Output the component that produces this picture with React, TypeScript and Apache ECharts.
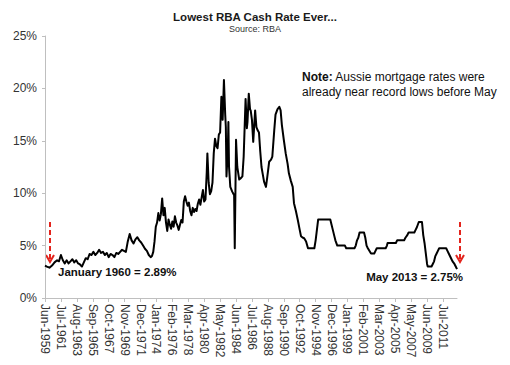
import React, { useEffect, useRef } from "react";
import * as echarts from "echarts";

const MONTH_NAMES = ["Jan", "Feb", "Mar", "Apr", "May", "Jun", "Jul", "Aug", "Sep", "Oct", "Nov", "Dec"];
// Monthly categories from Jun-1959 to May-2013
const START_YEAR = 1959;
const START_MONTH = 5; // June (0-based)
const MONTH_COUNT = 648;
const categories: string[] = [];
for (let i = 0; i < MONTH_COUNT; i++) {
  const t = START_MONTH + i;
  categories.push(`${MONTH_NAMES[t % 12]}-${START_YEAR + Math.floor(t / 12)}`);
}

// Readings: months since Jun-1959, cash rate (%)
const readMonths = [
  0, 3, 7, 11, 15, 19, 22, 25, 28, 31, 34, 37, 40, 43, 46, 49, 52, 55, 58, 61, 64, 67, 70, 73, 76, 79, 82, 85, 88, 91,
  94, 97, 100, 103, 106, 109, 112, 115, 118, 121, 124, 127, 130, 133, 136, 139, 142, 145, 148, 151, 154, 157, 160, 163,
  166, 168, 170, 172, 174, 176, 178, 180, 182, 184, 186, 188, 190, 192, 194, 196, 198, 200, 202, 204, 206, 208, 210,
  212, 214, 216, 218, 220, 222, 224, 226, 228, 230, 232, 234, 236, 238, 240, 242, 244, 246, 248, 250, 252, 254, 255,
  257, 259, 261, 263, 265, 267, 269, 271, 273, 275, 277, 279, 281, 283, 284, 285, 287, 288, 289, 291, 294, 297, 298,
  300, 302, 305, 307, 310, 312, 315, 317, 318, 320, 322, 323, 325, 327, 330, 332, 334, 336, 338, 340, 342, 344, 347,
  349, 352, 355, 357, 360, 362, 365, 368, 370, 372, 375, 378, 381, 383, 386, 389, 391, 394, 397, 400, 402, 405, 407,
  410, 413, 423, 425, 427, 429, 448, 450, 452, 454, 456, 459, 471, 473, 486, 488, 490, 492, 494, 501, 503, 505, 507,
  512, 517, 519, 521, 535, 537, 538, 551, 553, 564, 566, 569, 571, 580, 582, 584, 587, 592, 594, 596, 598, 600, 601,
  607, 609, 611, 613, 615, 617, 619, 630, 632, 634, 638, 640, 643, 645, 647,
];
const readRates = [
  3.1, 3.0, 2.89, 3.1, 3.4, 3.6, 3.5, 4.1, 3.6, 3.3, 3.6, 3.3, 3.5, 3.7, 3.4, 3.6, 3.3, 3.2, 3.0, 3.4, 3.8, 3.7, 4.2,
  4.1, 4.4, 4.1, 4.3, 4.6, 4.3, 4.4, 4.1, 4.3, 3.9, 4.2, 4.1, 3.9, 4.3, 4.2, 4.4, 4.6, 4.5, 4.4, 5.4, 6.1, 5.5, 5.2,
  5.6, 5.8, 5.5, 5.3, 5.0, 4.7, 4.5, 4.1, 3.9, 4.0, 4.4, 5.4, 6.8, 7.2, 8.1, 7.4, 8.0, 9.5, 7.9, 8.6, 7.2, 6.4, 7.5,
  7.0, 6.6, 7.3, 6.8, 7.8, 7.2, 6.9, 6.5, 7.0, 7.45, 7.2, 9.2, 9.7, 9.2, 8.8, 9.1, 8.3, 7.9, 8.6, 8.2, 8.5, 8.3, 9.0,
  9.4, 8.9, 9.6, 10.3, 9.2, 9.4, 12.0, 13.8, 11.0, 9.9, 10.2, 11.0, 13.8, 15.2, 14.5, 14.3, 15.6, 15.8, 19.2, 17.0,
  20.8, 17.5, 16.3, 11.6, 14.0, 16.8, 12.5, 10.6, 10.15, 9.8, 4.75, 15.1, 12.5, 11.3, 11.4, 11.6, 13.5, 19.0, 16.2,
  16.8, 19.5, 18.0, 17.9, 17.0, 14.9, 17.9, 16.3, 16.0, 15.8, 14.0, 12.5, 11.8, 11.1, 10.6, 11.5, 13.0, 13.2, 13.5,
  16.0, 17.5, 18.0, 18.25, 17.9, 16.5, 15.1, 13.8, 12.8, 11.9, 11.2, 10.6, 9.05, 8.3, 7.45, 6.5, 5.9, 5.75, 5.7, 5.4,
  4.75, 4.75, 5.5, 6.5, 7.5, 7.5, 7.0, 6.5, 6.0, 5.5, 5.0, 5.0, 4.75, 4.75, 5.0, 5.5, 5.75, 6.25, 6.25, 5.75, 5.0,
  4.75, 4.25, 4.25, 4.5, 4.75, 4.75, 5.0, 5.25, 5.25, 5.5, 5.5, 5.75, 6.0, 6.25, 6.25, 6.5, 6.75, 7.25, 7.25, 6.0,
  5.25, 4.25, 3.25, 3.0, 3.0, 3.25, 3.5, 4.0, 4.25, 4.5, 4.75, 4.75, 4.5, 4.25, 3.75, 3.5, 3.25, 3.0, 2.75,
];

const yTicks = [0, 5, 10, 15, 20, 25];
const TITLE = "Lowest RBA Cash Rate Ever...";
const SUBTITLE = "Source: RBA";
const NOTE_BOLD = "Note:";
const NOTE_REST_1 = " Aussie mortgage rates were";
const NOTE_LINE_2 = "already near record lows before May";
const START_NOTE = "January 1960 = 2.89%";
const END_NOTE = "May 2013 = 2.75%";

const FONT = "Liberation Sans, Arial, sans-serif";
const RED = "#e3231c";

export default function App() {
  const ref = useRef<HTMLDivElement>(null);
  useEffect(() => {
    if (!ref.current) return;
    const chart = echarts.init(ref.current, undefined, { renderer: "svg" });
    const data = readMonths.map((m, i) => [m, readRates[i]]);
    const arrow = (x: number) => [
      {
        type: "line",
        shape: { x1: x, y1: 222, x2: x, y2: 261 },
        style: { stroke: RED, lineWidth: 2, lineDash: [5, 3] },
      },
      {
        type: "polyline",
        shape: { points: [[x - 4, 255], [x, 262], [x + 4, 255]] },
        style: { stroke: RED, lineWidth: 2, fill: "none" },
      },
    ];
    chart.setOption({
      animation: false,
      backgroundColor: "#ffffff",
      textStyle: { fontFamily: FONT },
      title: {
        text: TITLE,
        subtext: SUBTITLE,
        left: "center",
        top: 6,
        itemGap: 1,
        textStyle: { fontFamily: FONT, fontSize: 11.5, fontWeight: "bold", color: "#1a1a1a" },
        subtextStyle: { fontFamily: FONT, fontSize: 9, color: "#333" },
      },
      grid: { left: 45, top: 36, right: 53, bottom: 67, containLabel: false },
      xAxis: {
        type: "category",
        data: categories,
        boundaryGap: false,
        axisLine: { lineStyle: { color: "#bfbfbf", width: 1 } },
        axisTick: { interval: 24, length: 4, lineStyle: { color: "#bfbfbf" } },
        axisLabel: {
          interval: 24,
          rotate: -90,
          margin: 6,
          fontFamily: FONT,
          fontSize: 12,
          color: "#333",
        },
        splitLine: { show: false },
      },
      yAxis: {
        type: "value",
        min: yTicks[0],
        max: yTicks[yTicks.length - 1],
        interval: 5,
        axisLine: { show: true, lineStyle: { color: "#bfbfbf", width: 1 } },
        axisTick: { show: true, length: 3, lineStyle: { color: "#bfbfbf" } },
        axisLabel: { formatter: "{value}%", margin: 8, fontFamily: FONT, fontSize: 12, color: "#333" },
        splitLine: { show: false },
      },
      series: [
        {
          type: "line",
          data,
          showSymbol: false,
          symbol: "none",
          lineStyle: { color: "#000", width: 2, join: "round" },
        },
      ],
      graphic: [
        ...arrow(50),
        ...arrow(460),
        {
          type: "text",
          left: 302,
          top: 69,
          style: {
            text: `{b|${NOTE_BOLD}}${NOTE_REST_1}\n${NOTE_LINE_2}`,
            font: `12px ${FONT}`,
            fill: "#111",
            lineHeight: 15,
            rich: { b: { fontWeight: "bold", fontSize: 12, fontFamily: FONT, fill: "#111" } },
          },
        },
        {
          type: "text",
          left: 58,
          top: 266,
          style: { text: START_NOTE, font: `bold 11.5px ${FONT}`, fill: "#111" },
        },
        {
          type: "text",
          right: 510 - 463,
          top: 271,
          style: { text: END_NOTE, font: `bold 11.5px ${FONT}`, fill: "#111" },
        },
      ],
    });
    return () => chart.dispose();
  }, []);
  return <div ref={ref} style={{ position: "fixed", left: 0, top: 0, width: 510, height: 365 }} />;
}
